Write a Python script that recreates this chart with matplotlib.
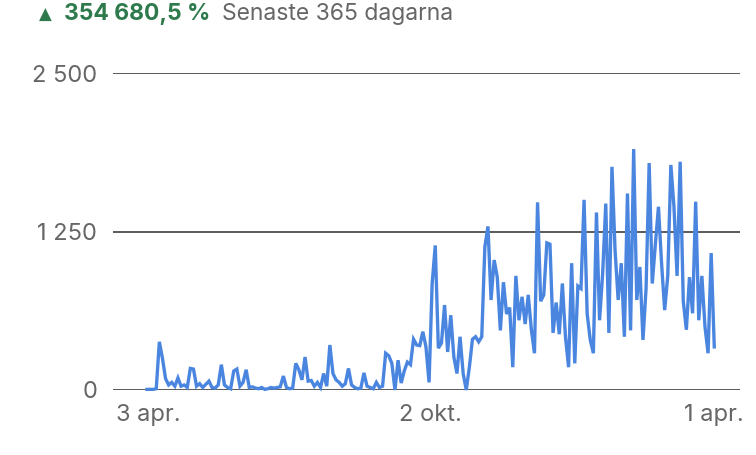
import numpy as np
import matplotlib.pyplot as plt

# values, one point every second day
values = [
    5, 5, 5, 10, 380, 250, 90, 40, 60, 30,
    95, 30, 40, 20, 170, 165, 30, 50, 20, 45,
    70, 20, 15, 40, 200, 40, 20, 10, 150, 165,
    30, 60, 160, 20, 25, 15, 10, 20, 5, 10,
    20, 15, 20, 25, 110, 20, 10, 15, 210, 160,
    80, 260, 70, 75, 30, 60, 20, 130, 30, 355,
    130, 80, 60, 30, 50, 170, 40, 20, 10, 15,
    135, 30, 20, 10, 60, 20, 30, 290, 270, 210,
    0, 235, 55, 150, 220, 200, 400, 355, 350, 460,
    340, 60, 840, 1140, 330, 370, 670, 300, 590, 260,
    130, 420, 130, 0, 180, 400, 420, 380, 420, 1130,
    1290, 710, 1025, 890, 470, 850, 600, 650, 180, 900,
    550, 735, 520, 750, 475, 290, 1480, 700, 750, 1160,
    1150, 450, 690, 440, 840, 420, 180, 1000, 210, 820,
    800, 1500, 600, 395, 290, 1400, 550, 920, 1470, 450,
    1760, 1100, 710, 1000, 420, 1550, 470, 1900, 710, 970,
    395, 800, 1790, 840, 1150, 1445, 1000, 630, 900, 1775,
    1445, 900, 1800, 700, 475, 890, 605, 1485, 550, 900,
    500, 290, 1080, 340,
]
days = np.arange(len(values)) * 2

tick_days = [0.6, 183, 366]
tick_labels = ["3 apr.", "2 okt.", "1 apr."]
y_ticks = [0, 1250, 2500]
y_labels = ["0", "1 250", "2 500"]

plt.rcParams['font.family'] = ['Inter', 'DejaVu Sans']

fig = plt.figure(figsize=(7.56, 4.55), dpi=100)
ax = fig.add_axes([113 / 756, 1 - 390 / 455, 627 / 756, 317 / 455])

for yt in y_ticks:
    ax.axhline(yt, color='#4d4d4d', lw=1.3, zorder=1)

ax.plot(days, values, color='#4a86e0', lw=2.4, solid_joinstyle='miter',
        clip_on=False, zorder=3)

ax.set_xlim(-21.9, 382.6)
ax.set_ylim(0, 2500)
ax.set_xticks(tick_days)
ax.set_xticklabels(tick_labels)
ax.set_yticks(y_ticks)
ax.set_yticklabels(y_labels)
ax.tick_params(length=0, labelsize=17, colors='#666666')
ax.tick_params(axis='x', pad=10)
ax.tick_params(axis='y', pad=11.5)
for s in ax.spines.values():
    s.set_visible(False)

fig.text(39 / 756, 1 - 15 / 455, "\u25b2", color='#2f7a4d', fontsize=12,
         va='center', ha='left', family=['DejaVu Sans'])
fig.text(64 / 756, 1 - 14 / 455, "354 680,5 %", color='#2f7a4d', fontsize=16.5,
         fontweight='bold', va='center', ha='left')
fig.text(222 / 756, 1 - 14 / 455, "Senaste 365 dagarna", color='#666666',
         fontsize=16.5, va='center', ha='left')

fig.savefig('out.png', dpi=100)
